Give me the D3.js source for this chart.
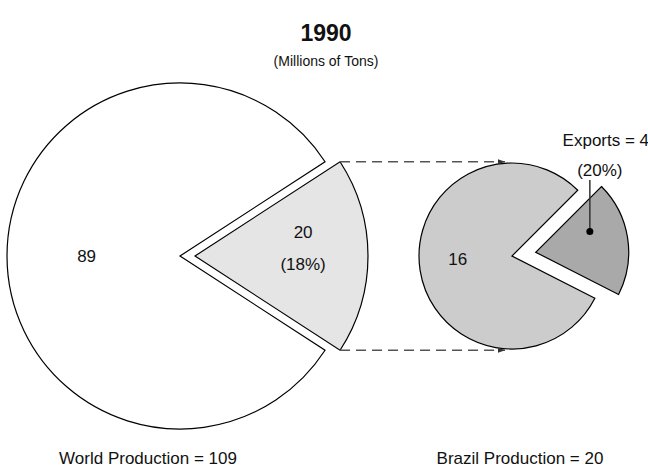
<!DOCTYPE html>
<html>
<head>
<meta charset="utf-8">
<script src="https://cdn.jsdelivr.net/npm/d3@7"></script>
<style>
  body { margin: 0; background: #fff; }
  svg text { font-family: "Liberation Sans", Arial, Helvetica, sans-serif; fill: #111; }
</style>
</head>
<body>
<div id="chart"></div>
<script>
// data (millions of tons, 1990)
const worldLabels = ["Brazil", "Rest of world"];
const worldValues = [20, 89];
const brazilLabels = ["Exports", "Domestic"];
const brazilValues = [4, 16];
const titleText = "1990";
const subtitleText = "(Millions of Tons)";

const width = 648, height = 474;

const svg = d3.select("#chart")
  .append("svg")
    .attr("width", width)
    .attr("height", height);

const deg = Math.PI / 180;
const worldTotal = d3.sum(worldValues);
const brazilTotal = d3.sum(brazilValues);

// big pie: brazil slice centred on 3 o'clock
const bigC = [180, 256], bigR = 173, bigPop = 15;
const brazilSpan = worldValues[0] / worldTotal * 2 * Math.PI;
const bigPie = d3.pie().sort(null).value(d => d)
  .startAngle(Math.PI / 2 - brazilSpan / 2)
  .endAngle(Math.PI / 2 - brazilSpan / 2 + 2 * Math.PI);
const bigArcs = bigPie(worldValues);
const bigArc = d3.arc().innerRadius(0).outerRadius(bigR);

// small pie: exports slice popped up-right
const smC = [512, 256], smR = 93, smPop = 24;
const smPie = d3.pie().sort(null).value(d => d)
  .startAngle(45 * deg)
  .endAngle(45 * deg + 2 * Math.PI);
const smArcs = smPie(brazilValues);
const smArc = d3.arc().innerRadius(0).outerRadius(smR);

const mid = d => (d.startAngle + d.endAngle) / 2;
const offset = (d, k) => [Math.sin(mid(d)) * k, -Math.cos(mid(d)) * k];

const bigFill = ["#e5e5e5", "#ffffff"];
const smFill = ["#a9a9a9", "#cccccc"];

const gBig = svg.append("g").attr("transform", `translate(${bigC})`);
gBig.selectAll("path")
  .data(bigArcs)
  .join("path")
    .attr("d", bigArc)
    .attr("transform", (d, i) => i === 0 ? `translate(${offset(d, bigPop)})` : null)
    .attr("fill", (d, i) => bigFill[i])
    .attr("stroke", "#000")
    .attr("stroke-width", 1.2)
    .attr("stroke-linejoin", "miter");

const gSm = svg.append("g").attr("transform", `translate(${smC})`);
gSm.selectAll("path")
  .data(smArcs)
  .join("path")
    .attr("d", smArc)
    .attr("transform", (d, i) => i === 0 ? `translate(${offset(d, smPop)})` : null)
    .attr("fill", (d, i) => smFill[i])
    .attr("stroke", "#000")
    .attr("stroke-width", 1.2);

// labels inside pies
const b0 = bigArcs[0], b1 = bigArcs[1];
const pct = d3.format(".0%");
let p = offset(b0, bigPop + bigR * 0.625);
gBig.append("text").attr("x", p[0]).attr("y", p[1] - 18)
  .attr("text-anchor", "middle").attr("font-size", 17).text(worldValues[0]);
gBig.append("text").attr("x", p[0]).attr("y", p[1] + 14)
  .attr("text-anchor", "middle").attr("font-size", 17)
  .text(`(${pct(worldValues[0] / worldTotal)})`);
p = offset(b1, bigR * 0.54);
gBig.append("text").attr("x", p[0]).attr("y", p[1] + 6)
  .attr("text-anchor", "middle").attr("font-size", 17).text(worldValues[1]);

const s0 = smArcs[0], s1 = smArcs[1];
p = offset(s1, smR * 0.59);
gSm.append("text").attr("x", p[0]).attr("y", p[1])
  .attr("text-anchor", "middle").attr("font-size", 17).text(brazilValues[1]);

// exports callout: dot in popped slice, vertical leader up to label
const sp = offset(s0, smPop);
const dotA = 69 * deg, dotR = 58;
const dot = [sp[0] + Math.sin(dotA) * dotR, sp[1] - Math.cos(dotA) * dotR];
gSm.append("line")
  .attr("x1", dot[0]).attr("y1", dot[1])
  .attr("x2", dot[0]).attr("y2", -76)
  .attr("stroke", "#333").attr("stroke-width", 1.5);
gSm.append("circle").attr("cx", dot[0]).attr("cy", dot[1]).attr("r", 3.5).attr("fill", "#000");
gSm.append("text").attr("x", dot[0] + 16).attr("y", -110)
  .attr("text-anchor", "middle").attr("font-size", 17)
  .text(`${brazilLabels[0]} = ${brazilValues[0]}`);
gSm.append("text").attr("x", dot[0] + 10).attr("y", -80)
  .attr("text-anchor", "middle").attr("font-size", 17)
  .text(`(${pct(brazilValues[0] / brazilTotal)})`);

// dashed connector arrows from slice corners to small pie
svg.append("defs").append("marker")
  .attr("id", "arrow")
  .attr("viewBox", "0 0 10 10")
  .attr("refX", 10).attr("refY", 5)
  .attr("markerWidth", 7).attr("markerHeight", 7)
  .attr("markerUnits", "userSpaceOnUse")
  .attr("orient", "auto")
  .append("path").attr("d", "M0,1.5L10,5L0,8.5Z").attr("fill", "#333");

const bo = offset(b0, bigPop);
const corners = [b0.startAngle, b0.endAngle].map(a => [
  bigC[0] + bo[0] + Math.sin(a) * bigR,
  bigC[1] + bo[1] - Math.cos(a) * bigR
]);
svg.selectAll("line.conn")
  .data(corners)
  .join("line")
    .attr("class", "conn")
    .attr("x1", d => d[0]).attr("y1", d => d[1])
    .attr("x2", smC[0] - 7).attr("y2", d => d[1])
    .attr("stroke", "#555")
    .attr("stroke-width", 1.5)
    .attr("stroke-dasharray", "10,6")
    .attr("marker-end", "url(#arrow)");

// titles
svg.append("text").attr("x", 326).attr("y", 41)
  .attr("text-anchor", "middle").attr("font-size", 23).attr("font-weight", "bold")
  .text(titleText);
svg.append("text").attr("x", 326).attr("y", 66)
  .attr("text-anchor", "middle").attr("font-size", 14)
  .text(subtitleText);

svg.append("text").attr("x", 148).attr("y", 464)
  .attr("text-anchor", "middle").attr("font-size", 17)
  .text(`World Production = ${worldTotal}`);
svg.append("text").attr("x", 520).attr("y", 464)
  .attr("text-anchor", "middle").attr("font-size", 17)
  .text(`Brazil Production = ${brazilTotal}`);
</script>
</body>
</html>
